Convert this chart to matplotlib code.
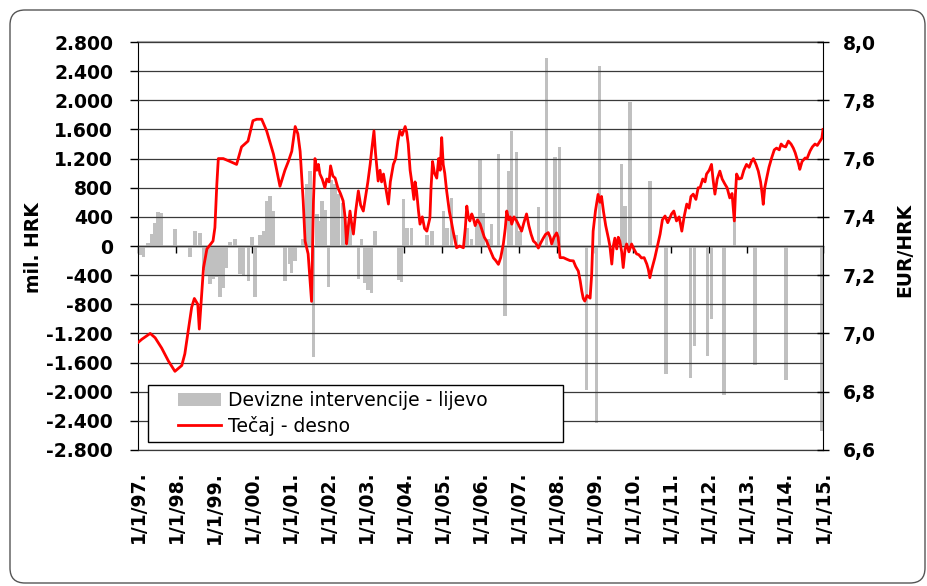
import numpy as np
import matplotlib
matplotlib.use("Agg")
import matplotlib.pyplot as plt
from matplotlib.lines import Line2D
from matplotlib.patches import Patch, FancyBboxPatch, Rectangle

# EUR/HRK exchange rate (decimal year, rate)
rate_t = [1997.01, 1997.10, 1997.32, 1997.45, 1997.62, 1997.80, 1997.97, 1998.15,
          1998.23, 1998.32, 1998.41, 1998.48, 1998.57, 1998.61, 1998.65, 1998.72,
          1998.81, 1998.97, 1999.02, 1999.07, 1999.11, 1999.24, 1999.42, 1999.59,
          1999.72, 1999.89, 2000.02, 2000.12, 2000.25, 2000.38, 2000.56, 2000.73,
          2000.86, 2000.95, 2001.04, 2001.13, 2001.20, 2001.26, 2001.34, 2001.39,
          2001.47, 2001.56, 2001.61, 2001.65, 2001.70, 2001.74, 2001.78, 2001.84,
          2001.91, 2001.96, 2002.02, 2002.06, 2002.12, 2002.18, 2002.25, 2002.32,
          2002.39, 2002.44, 2002.48, 2002.52, 2002.57, 2002.61, 2002.66, 2002.72,
          2002.79, 2002.85, 2002.92, 2002.98, 2003.04, 2003.10, 2003.15, 2003.20,
          2003.24, 2003.31, 2003.36, 2003.40, 2003.45, 2003.51, 2003.58, 2003.63,
          2003.71, 2003.77, 2003.83, 2003.88, 2003.94, 2004.02, 2004.06, 2004.10,
          2004.15, 2004.19, 2004.25, 2004.28, 2004.32, 2004.37, 2004.41, 2004.47,
          2004.53, 2004.59, 2004.67, 2004.70, 2004.74, 2004.79, 2004.85, 2004.90,
          2004.94, 2004.98, 2005.02, 2005.06, 2005.11, 2005.18, 2005.24, 2005.28,
          2005.33, 2005.37, 2005.45, 2005.55, 2005.60, 2005.64, 2005.68, 2005.72,
          2005.77, 2005.81, 2005.86, 2005.92, 2005.99, 2006.05, 2006.10, 2006.16,
          2006.24, 2006.34, 2006.40, 2006.47, 2006.53, 2006.60, 2006.65, 2006.69,
          2006.74, 2006.78, 2006.82, 2006.88, 2006.95, 2007.01, 2007.08, 2007.14,
          2007.21, 2007.27, 2007.33, 2007.39, 2007.45, 2007.52, 2007.58, 2007.65,
          2007.71, 2007.78, 2007.83, 2007.87, 2007.93, 2008.00, 2008.04, 2008.09,
          2008.18, 2008.26, 2008.35, 2008.44, 2008.50, 2008.57, 2008.62, 2008.66,
          2008.70, 2008.74, 2008.80, 2008.88, 2008.92, 2008.96, 2009.02, 2009.09,
          2009.14, 2009.18, 2009.23, 2009.29, 2009.36, 2009.40, 2009.45, 2009.49,
          2009.53, 2009.58, 2009.62, 2009.66, 2009.71, 2009.75, 2009.80, 2009.84,
          2009.90, 2009.97, 2010.03, 2010.10, 2010.16, 2010.23, 2010.30, 2010.37,
          2010.41, 2010.45, 2010.50, 2010.58, 2010.65, 2010.72, 2010.78, 2010.85,
          2010.92, 2011.02, 2011.08, 2011.15, 2011.22, 2011.29, 2011.35, 2011.42,
          2011.48, 2011.53, 2011.59, 2011.66, 2011.72, 2011.77, 2011.84, 2011.90,
          2011.94, 2012.01, 2012.07, 2012.11, 2012.16, 2012.22, 2012.29, 2012.35,
          2012.42, 2012.48, 2012.55, 2012.61, 2012.67, 2012.70, 2012.73, 2012.79,
          2012.86, 2012.92, 2012.99, 2013.06, 2013.12, 2013.17, 2013.24, 2013.30,
          2013.36, 2013.40, 2013.43, 2013.47, 2013.52, 2013.58, 2013.65, 2013.72,
          2013.78, 2013.85, 2013.90, 2013.95, 2014.02, 2014.09, 2014.16, 2014.22,
          2014.27, 2014.31, 2014.36, 2014.39, 2014.45, 2014.53, 2014.58, 2014.66,
          2014.72, 2014.79, 2014.85, 2014.92, 2014.97, 2015.00]
rate_v = [6.970, 6.980, 7.000, 6.985, 6.950, 6.905, 6.870, 6.890,
          6.930, 7.010, 7.090, 7.120, 7.100, 7.015, 7.090, 7.225,
          7.290, 7.317, 7.363, 7.510, 7.600, 7.600, 7.590, 7.580,
          7.640, 7.660, 7.730, 7.735, 7.735, 7.695, 7.615, 7.505,
          7.560, 7.590, 7.625, 7.710, 7.685, 7.625, 7.455, 7.317,
          7.273, 7.110, 7.455, 7.600, 7.560, 7.580, 7.547, 7.530,
          7.500, 7.530, 7.520, 7.575, 7.540, 7.533, 7.500, 7.480,
          7.455, 7.400, 7.307, 7.360, 7.420, 7.380, 7.341, 7.420,
          7.489, 7.440, 7.420, 7.470, 7.520, 7.580, 7.640, 7.695,
          7.620, 7.523, 7.560, 7.520, 7.547, 7.500, 7.444, 7.520,
          7.580, 7.600, 7.660, 7.695, 7.680, 7.710, 7.690, 7.650,
          7.560, 7.523, 7.460, 7.520, 7.489, 7.420, 7.375, 7.400,
          7.360, 7.351, 7.396, 7.500, 7.590, 7.550, 7.533, 7.600,
          7.560, 7.672, 7.580, 7.550, 7.489, 7.420, 7.380, 7.351,
          7.320, 7.294, 7.300, 7.294, 7.360, 7.437, 7.400, 7.386,
          7.410, 7.396, 7.370, 7.390, 7.375, 7.350, 7.330, 7.317,
          7.290, 7.259, 7.250, 7.237, 7.260, 7.307, 7.360, 7.420,
          7.390, 7.400, 7.375, 7.400, 7.386, 7.370, 7.351, 7.380,
          7.410, 7.370, 7.340, 7.317, 7.310, 7.293, 7.310, 7.327,
          7.340, 7.346, 7.330, 7.307, 7.330, 7.345, 7.330, 7.260,
          7.260, 7.255, 7.250, 7.249, 7.230, 7.214, 7.180, 7.146,
          7.120, 7.111, 7.130, 7.121, 7.200, 7.351, 7.420, 7.477,
          7.450, 7.470, 7.420, 7.370, 7.327, 7.300, 7.238, 7.300,
          7.327, 7.290, 7.330, 7.317, 7.280, 7.226, 7.290, 7.307,
          7.280, 7.307, 7.290, 7.273, 7.270, 7.259, 7.260, 7.238,
          7.220, 7.191, 7.220, 7.259, 7.300, 7.341, 7.390, 7.403,
          7.380, 7.410, 7.420, 7.386, 7.400, 7.351, 7.400, 7.444,
          7.430, 7.470, 7.478, 7.460, 7.500, 7.500, 7.530, 7.520,
          7.547, 7.560, 7.580, 7.530, 7.478, 7.530, 7.557, 7.530,
          7.513, 7.500, 7.465, 7.480, 7.386, 7.480, 7.547, 7.530,
          7.533, 7.560, 7.580, 7.570, 7.590, 7.600, 7.580, 7.557,
          7.520, 7.480, 7.443, 7.500, 7.533, 7.570, 7.602, 7.630,
          7.636, 7.630, 7.650, 7.643, 7.640, 7.660, 7.650, 7.636,
          7.620, 7.602, 7.580, 7.563, 7.590, 7.602, 7.600, 7.626,
          7.640, 7.650, 7.645, 7.660, 7.670, 7.700]

# FX interventions, mil. HRK (decimal year, value)
interv_t = [1997.05, 1997.14, 1997.26, 1997.36, 1997.45, 1997.53, 1997.62, 1997.97,
            1998.37, 1998.50, 1998.63, 1998.72, 1998.80, 1998.89, 1998.98, 1999.07,
            1999.15, 1999.24, 1999.33, 1999.42, 1999.55, 1999.68, 1999.77, 1999.90,
            1999.99, 2000.07, 2000.21, 2000.29, 2000.38, 2000.47, 2000.55, 2000.86,
            2000.99, 2001.04, 2001.13, 2001.34, 2001.43, 2001.52, 2001.61, 2001.70,
            2001.78, 2001.83, 2001.91, 2002.00, 2002.09, 2002.18, 2002.26, 2002.39,
            2002.57, 2002.79, 2002.88, 2002.96, 2003.04, 2003.14, 2003.23, 2003.84,
            2003.93, 2003.97, 2004.07, 2004.18, 2004.59, 2004.72, 2005.02, 2005.12,
            2005.24, 2005.37, 2005.64, 2005.77, 2005.90, 2005.99, 2006.07, 2006.20,
            2006.29, 2006.47, 2006.64, 2006.73, 2006.82, 2006.95, 2007.04, 2007.52,
            2007.74, 2007.96, 2008.07, 2008.79, 2009.05, 2009.12, 2009.71, 2009.80,
            2009.93, 2010.45, 2010.87, 2011.52, 2011.63, 2011.96, 2012.07, 2012.40,
            2012.67, 2013.21, 2014.03, 2014.96]
interv_v = [-120, -150, 40, 160, 320, 470, 450, 230,
            -150, 210, 180, -330, -400, -520, -450, -420,
            -700, -570, -300, 50, 90, -380, -400, -480,
            120, -700, 150, 200, 620, 690, 480, -480,
            -250, -370, -200, 100, 850, 1030, -1520, 440,
            340, 620, 500, -560, 900, 850, 710, 590,
            390, -450, 100, -510, -600, -650, 200, -460,
            -500, 640, 250, 250, 150, 200, 480, 250,
            660, 150, 250, 100, 300, 1200, 450, 100,
            300, 1260, -960, 1030, 1580, 1290, 200, 540,
            2580, 1220, 1360, -1970, -2430, 2470, 1120, 550,
            1980, 890, -1760, -1810, -1370, -1510, -1000, -2040,
            380, -1640, -1840, -2540]

years = list(range(1997, 2016))
left_ticks = list(range(-2800, 2801, 400))
right_ticks = [6.6, 6.8, 7.0, 7.2, 7.4, 7.6, 7.8, 8.0]

FS = 13.5
BAR_GRAY = '#c0c0c0'
RED = '#ff0000'

fig = plt.figure(figsize=(9.27, 5.86), dpi=100)

# rounded frame around the whole picture
frame = FancyBboxPatch((0.10, 0.03), 9.15, 5.73, boxstyle="round,pad=0,rounding_size=0.15",
                       transform=fig.dpi_scale_trans, facecolor='none',
                       edgecolor='#555555', linewidth=1.0)
fig.patches.append(frame)

ax = fig.add_axes([0.1489, 0.2321, 0.7389, 0.6962])
ax.bar(interv_t, interv_v, width=0.09, color=BAR_GRAY, linewidth=0, zorder=1)
ax.set_xlim(1997, 2015)
ax.set_ylim(-2800, 2800)

ax.set_yticks(left_ticks)
ax.set_yticklabels([f"{v:,}".replace(',', '.') for v in left_ticks],
                   fontsize=FS, fontweight='bold')
ax.tick_params(axis='y', direction='out', length=6, width=1, pad=12)
ax.yaxis.grid(True, color='#3a3a3a', linewidth=0.9)
ax.set_axisbelow(False)

ax.set_xticks(years)
ax.set_xticklabels([f"1/1/{y % 100:02d}." for y in years], rotation=90,
                   fontsize=FS, fontweight='bold')
ax.tick_params(axis='x', length=0, pad=15)

ax.spines['top'].set_color('#a0a0a0')
ax.spines['top'].set_linewidth(1.5)
ax.spines['bottom'].set_color('#3a3a3a')
ax.spines['bottom'].set_linewidth(0.9)
ax.spines['left'].set_color('black')
ax.spines['right'].set_visible(False)

ax.set_ylabel('mil. HRK', fontsize=FS, fontweight='bold')
ax.yaxis.set_label_coords(-0.1387, 0.495)

# zero line carrying the year ticks
sec = ax.secondary_xaxis(0.4999)
sec.set_xticks(years)
sec.set_xticklabels([])
sec.tick_params(axis='x', direction='out', length=5, width=1, color='black')
sec.spines['bottom'].set_color('black')
sec.spines['bottom'].set_linewidth(1.0)

ax2 = ax.twinx()
ax2.plot(rate_t, rate_v, color=RED, linewidth=2.0, zorder=3)
ax2.set_ylim(6.6, 8.0)
ax2.set_yticks(right_ticks)
ax2.set_yticklabels([f"{v:.1f}".replace('.', ',') for v in right_ticks],
                    fontsize=FS, fontweight='bold')
ax2.tick_params(axis='y', direction='inout', length=9, width=1, pad=10)
ax2.spines['right'].set_color('black')
for s in ['top', 'bottom', 'left']:
    ax2.spines[s].set_visible(False)
ax2.set_ylabel('EUR/HRK', fontsize=FS, fontweight='bold')
ax2.yaxis.set_label_coords(1.105, 0.49)

# legend: white box with a frameless legend placed inside it
box = Rectangle((0.0146, 0.0196), 0.606, 0.14, transform=ax2.transAxes,
                facecolor='white', edgecolor='black', linewidth=1.0, zorder=5)
ax2.add_patch(box)
handles = [Patch(facecolor=BAR_GRAY, edgecolor='none'),
           Line2D([], [], color=RED, linewidth=2.0)]
labels = ['Devizne intervencije - lijevo', 'Tečaj - desno']
leg = ax2.legend(handles, labels, loc='center left', bbox_to_anchor=(0.0584, 0.0895),
                 borderaxespad=0, borderpad=0, fontsize=FS, frameon=False,
                 handlelength=2.3, handleheight=0.75, handletextpad=0.35,
                 labelspacing=0.3)
leg.set_zorder(6)

fig.savefig('out.png', dpi=100)
